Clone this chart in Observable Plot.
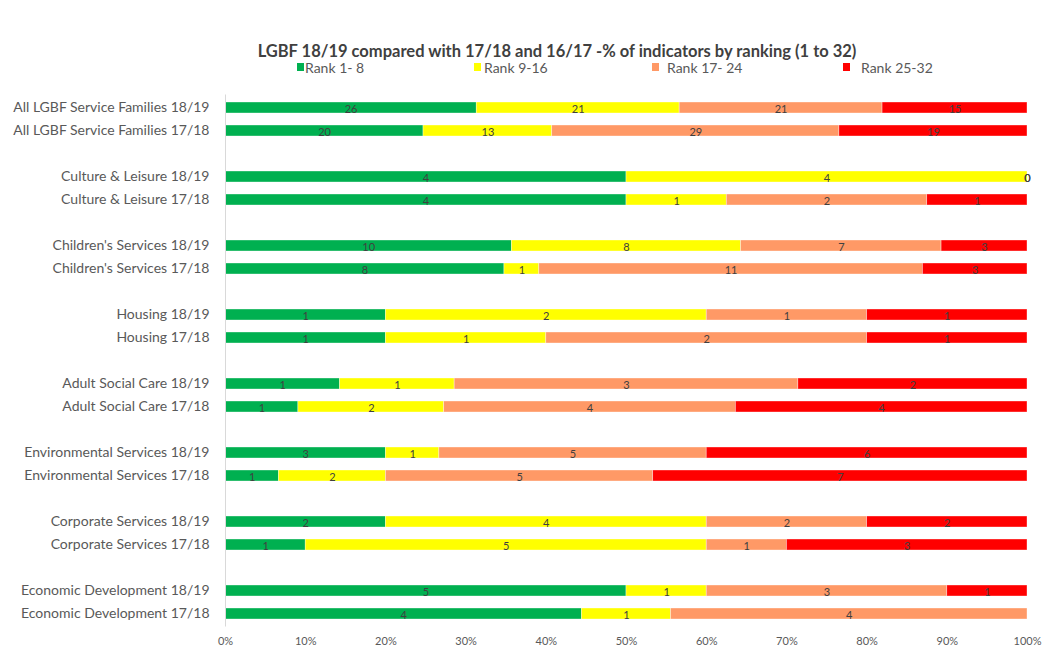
<!DOCTYPE html>
<html>
<head>
<meta charset="utf-8">
<script src="https://cdn.jsdelivr.net/npm/d3@7"></script>
<script src="https://cdn.jsdelivr.net/npm/@observablehq/plot@0.6"></script>
<style>
  body { margin: 0; background: #fff; font-family: Lato, "Liberation Sans", sans-serif; }
  #wrap { position: relative; width: 1043px; height: 649px; overflow: hidden; }
  #title { position: absolute; top: 41px; left: 0; width: 1114px; text-align: center; font-weight: bold; font-size: 16.5px; color: #404040; }
  .leg { position: absolute; top: 59px; font-size: 14px; color: #595959; white-space: nowrap; }
  .sw { position: absolute; top: 63px; width: 7px; height: 8px; }
  #chart { position: absolute; top: 80px; left: 0; }
</style>
</head>
<body>
<div id="wrap">
  <div id="title">LGBF 18/19 compared with 17/18 and 16/17 -% of indicators by ranking (1 to 32)</div>
  <div id="legend"></div>
  <div id="chart"></div>
</div>
<script>
const categories = ["All LGBF Service Families", "Culture & Leisure", "Children's Services", "Housing", "Adult Social Care", "Environmental Services", "Corporate Services", "Economic Development"];
const years = ["18/19", "17/18"];
const ranks = ["Rank 1- 8", "Rank 9-16", "Rank 17- 24", "Rank 25-32"];
const colors = ["#00B050", "#FFFF00", "#FF9966", "#FF0000"];

// counts of indicators per rank band
const rank1_1819 = [26, 4, 10, 1, 1, 3, 2, 5];
const rank2_1819 = [21, 4, 8, 2, 1, 1, 4, 1];
const rank3_1819 = [21, 0, 7, 1, 3, 5, 2, 3];
const rank4_1819 = [15, 0, 3, 1, 2, 6, 2, 1];
const rank1_1718 = [20, 4, 8, 1, 1, 1, 1, 4];
const rank2_1718 = [13, 1, 1, 1, 2, 2, 5, 1];
const rank3_1718 = [29, 2, 11, 2, 4, 5, 1, 4];
const rank4_1718 = [19, 1, 3, 1, 4, 7, 3, null];

const series = {
  "18/19": [rank1_1819, rank2_1819, rank3_1819, rank4_1819],
  "17/18": [rank1_1718, rank2_1718, rank3_1718, rank4_1718]
};

const data = [];
const domain = [];
const labels = [];
categories.forEach((c, ci) => {
  years.forEach(yr => {
    const row = c + " " + yr;
    domain.push(row);
    labels.push(row);
    series[yr].forEach((arr, ri) => {
      if (arr[ci] != null) data.push({row, rank: ranks[ri], value: arr[ci]});
    });
  });
  if (ci < categories.length - 1) domain.push("gap" + ci);
});

// legend
const legPos = [{sw: 297, tx: 305}, {sw: 474, tx: 484}, {sw: 652, tx: 667}, {sw: 843, tx: 861}];
const legend = document.getElementById("legend");
ranks.forEach((r, i) => {
  const s = document.createElement("div");
  s.className = "sw"; s.style.left = legPos[i].sw + "px"; s.style.background = colors[i];
  legend.appendChild(s);
  const t = document.createElement("div");
  t.className = "leg"; t.style.left = legPos[i].tx + "px"; t.textContent = r;
  legend.appendChild(t);
});

const chart = Plot.plot({
  width: 1043,
  height: 569,
  marginLeft: 225,
  marginRight: 16,
  marginTop: 14.5,
  marginBottom: 22.5,
  style: {fontFamily: "Lato, 'Liberation Sans', sans-serif", background: "white"},
  x: {domain: [0, 1]},
  y: {type: "band", domain, padding: 0},
  color: {domain: ranks, range: colors},
  marks: [
    Plot.barX(data, Plot.stackX({
      x: "value", y: "row", fill: "rank", offset: "normalize",
      insetTop: 6, insetBottom: 6, stroke: "white", strokeWidth: 0.6, strokeOpacity: 0.6
    })),
    Plot.text(data, Plot.stackX({
      x: "value", y: "row", z: "rank", offset: "normalize",
      text: d => String(d.value), fill: "#404040", fontSize: 11, dy: 1
    })),
    Plot.ruleX([0], {stroke: "#d9d9d9", strokeWidth: 1}),
    Plot.axisY(labels, {tickSize: 0, tickPadding: 16, fontSize: 14, fill: "#595959", label: null}),
    Plot.axisX(d3.range(0, 11).map(d => d / 10), {tickSize: 0, tickPadding: 10, fontSize: 11, fill: "#595959", tickFormat: d3.format(".0%"), label: null})
  ]
});
document.getElementById("chart").appendChild(chart);
</script>
</body>
</html>
